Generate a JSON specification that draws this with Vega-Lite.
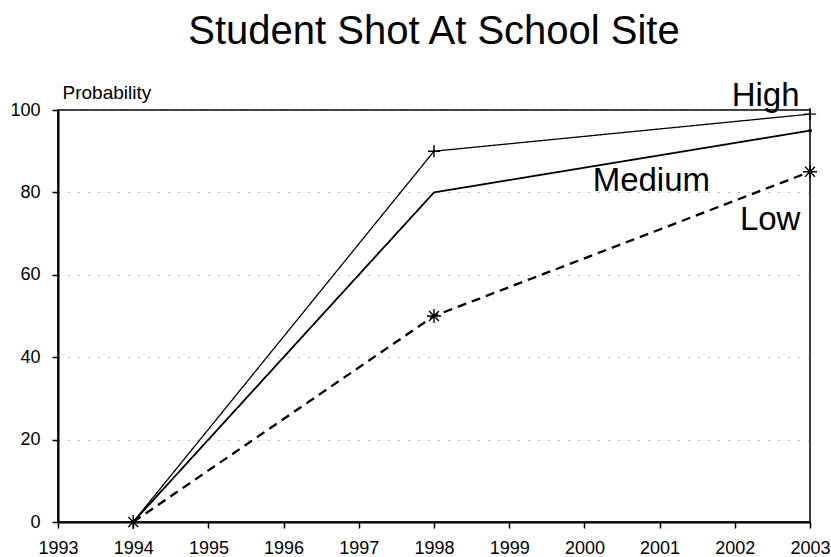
{
  "$schema": "https://vega.github.io/schema/vega-lite/v6.json",
  "width": 752,
  "height": 412,
  "autosize": "none",
  "padding": {"left": 58, "top": 110, "right": 21, "bottom": 35},
  "background": "white",
  "config": {
    "font": "Liberation Sans",
    "view": {"stroke": "black", "strokeWidth": 1.5}
  },
  "title": {
    "text": "Student Shot At School Site",
    "fontSize": 40,
    "fontWeight": "normal",
    "color": "black",
    "font": "Liberation Sans",
    "anchor": "middle",
    "offset": 28
  },
  "datasets": {
    "series": [
      {"year": 1994, "prob": 0, "risk": "High"},
      {"year": 1998, "prob": 90, "risk": "High"},
      {"year": 2003, "prob": 99, "risk": "High"},
      {"year": 1994, "prob": 0, "risk": "Medium"},
      {"year": 1998, "prob": 80, "risk": "Medium"},
      {"year": 2003, "prob": 95, "risk": "Medium"},
      {"year": 1994, "prob": 0, "risk": "Low"},
      {"year": 1998, "prob": 50, "risk": "Low"},
      {"year": 2003, "prob": 85, "risk": "Low"}
    ],
    "labels": [
      {"year": 2002.41, "prob": 101, "risk": "High"},
      {"year": 2000.89, "prob": 80.3, "risk": "Medium"},
      {"year": 2002.47, "prob": 70.8, "risk": "Low"}
    ]
  },
  "layer": [
    {
      "data": {"name": "series"},
      "mark": {"type": "line", "color": "black"},
      "encoding": {
        "x": {
          "field": "year",
          "type": "quantitative",
          "scale": {"domain": [1993, 2003], "nice": false, "zero": false},
          "axis": {
            "title": null,
            "values": [1993, 1994, 1995, 1996, 1997, 1998, 1999, 2000, 2001, 2002, 2003],
            "format": "d",
            "grid": false,
            "domainColor": "black",
            "domainWidth": 2,
            "tickColor": "black",
            "tickWidth": 1.5,
            "tickSize": 6,
            "labelFontSize": 18,
            "labelColor": "black",
            "labelPadding": 11,
            "labelFlush": false
          }
        },
        "y": {
          "field": "prob",
          "type": "quantitative",
          "scale": {"domain": [0, 100], "nice": false},
          "axis": {
            "title": "Probability",
            "titleAngle": 0,
            "titleAlign": "left",
            "titleBaseline": "alphabetic",
            "titleX": 4,
            "titleY": -12,
            "titleFontSize": 19,
            "titleFontWeight": "normal",
            "titleColor": "black",
            "values": [0, 20, 40, 60, 80, 100],
            "grid": true,
            "gridColor": "#777777",
            "gridDash": [1, 9],
            "gridWidth": 1,
            "domainColor": "black",
            "domainWidth": 2,
            "tickColor": "black",
            "tickWidth": 1.5,
            "tickSize": 6,
            "labelFontSize": 18,
            "labelColor": "black",
            "labelPadding": 12
          }
        },
        "detail": {"field": "risk"},
        "strokeDash": {
          "field": "risk",
          "scale": {"domain": ["High", "Medium", "Low"], "range": [[1, 0], [1, 0], [9, 6]]},
          "legend": null
        },
        "strokeWidth": {
          "field": "risk",
          "scale": {"domain": ["High", "Medium", "Low"], "range": [1.3, 2.3, 1.7]},
          "legend": null
        }
      }
    },
    {
      "data": {"name": "series"},
      "transform": [{"filter": "datum.risk == 'High' && datum.year != 1994"}],
      "mark": {"type": "point", "shape": "M-1,0H1M0,-1V1", "size": 150, "filled": false, "color": "black", "strokeWidth": 1.4, "opacity": 1},
      "encoding": {
        "x": {"field": "year", "type": "quantitative"},
        "y": {"field": "prob", "type": "quantitative"}
      }
    },
    {
      "data": {"name": "series"},
      "transform": [{"filter": "datum.risk == 'Low'"}],
      "mark": {"type": "point", "shape": "M-1,0H1M0,-1V1M-0.7,-0.7L0.7,0.7M-0.7,0.7L0.7,-0.7", "size": 200, "filled": false, "color": "black", "strokeWidth": 1.4, "opacity": 1},
      "encoding": {
        "x": {"field": "year", "type": "quantitative"},
        "y": {"field": "prob", "type": "quantitative"}
      }
    },
    {
      "data": {"name": "series"},
      "transform": [{"filter": "datum.risk == 'Medium' && datum.year == 2003"}],
      "mark": {"type": "point", "shape": "circle", "size": 14, "filled": true, "color": "black", "opacity": 1},
      "encoding": {
        "x": {"field": "year", "type": "quantitative"},
        "y": {"field": "prob", "type": "quantitative"}
      }
    },
    {
      "data": {"name": "labels"},
      "mark": {"type": "text", "fontSize": 33, "align": "center", "baseline": "alphabetic", "color": "black"},
      "encoding": {
        "x": {"field": "year", "type": "quantitative"},
        "y": {"field": "prob", "type": "quantitative"},
        "text": {"field": "risk"}
      }
    }
  ]
}
